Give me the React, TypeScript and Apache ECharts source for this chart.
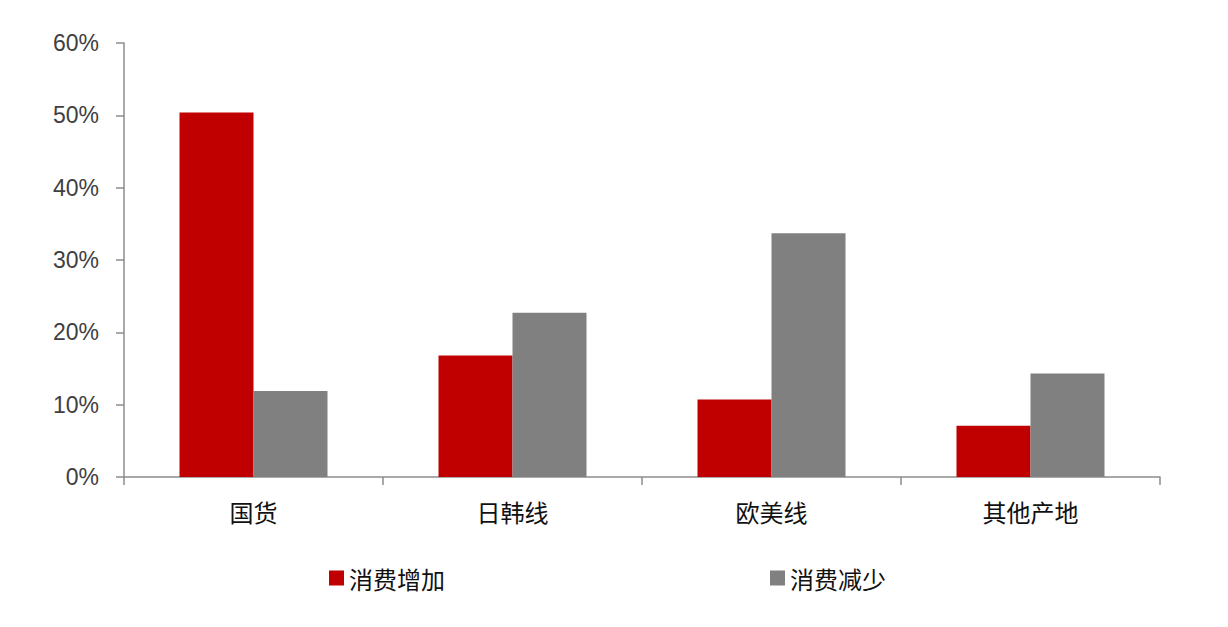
import { useEffect, useRef } from "react";
import * as echarts from "echarts";

const categories = ["国货", "日韩线", "欧美线", "其他产地"];
const increaseValues = [50.4, 16.8, 10.7, 7.1];
const decreaseValues = [11.9, 22.7, 33.7, 14.3];
const seriesNames = ["消费增加", "消费减少"];

const cjkFont = "'Noto Sans CJK SC', sans-serif";

export default function App() {
  const ref = useRef<HTMLDivElement | null>(null);

  useEffect(() => {
    const el = ref.current;
    if (!el) {
      return;
    }
    const chart = echarts.init(el, undefined, { renderer: "svg" });

    const legendText = {
      fontFamily: cjkFont,
      fontSize: 24,
      color: "#111111",
    };

    chart.setOption({
      animation: false,
      backgroundColor: "#ffffff",
      grid: { left: 124, right: 68, top: 43, bottom: 150 },
      legend: [
        {
          data: [seriesNames[0]],
          left: 324,
          top: 561,
          icon: "rect",
          itemWidth: 15,
          itemHeight: 15,
          itemGap: 10,
          textStyle: legendText,
        },
        {
          data: [seriesNames[1]],
          left: 765,
          top: 561,
          icon: "rect",
          itemWidth: 15,
          itemHeight: 15,
          itemGap: 10,
          textStyle: legendText,
        },
      ],
      xAxis: {
        type: "category",
        data: categories,
        axisLine: { lineStyle: { color: "#8c8c8c", width: 1.5 } },
        axisTick: { show: true, length: 8, lineStyle: { color: "#8c8c8c", width: 1.5 } },
        axisLabel: {
          fontFamily: cjkFont,
          fontSize: 24,
          color: "#111111",
          margin: 22,
        },
      },
      yAxis: {
        type: "value",
        min: 0,
        max: 60,
        interval: 10,
        splitLine: { show: false },
        axisLine: { show: true, lineStyle: { color: "#8c8c8c", width: 1.5 } },
        axisTick: { show: true, length: 8, lineStyle: { color: "#8c8c8c", width: 1.5 } },
        axisLabel: {
          formatter: "{value}%",
          fontFamily: "'Liberation Sans', Arial, sans-serif",
          fontSize: 23,
          color: "#404040",
          margin: 25,
        },
      },
      series: [
        {
          name: seriesNames[0],
          type: "bar",
          data: increaseValues,
          barWidth: 74,
          barGap: "0%",
          itemStyle: { color: "#c00000" },
        },
        {
          name: seriesNames[1],
          type: "bar",
          data: decreaseValues,
          barWidth: 74,
          barGap: "0%",
          itemStyle: { color: "#808080" },
        },
      ],
    });

    return () => {
      chart.dispose();
    };
  }, []);

  return (
    <div
      ref={ref}
      style={{ position: "fixed", left: 0, top: 0, width: 1228, height: 627 }}
    />
  );
}
